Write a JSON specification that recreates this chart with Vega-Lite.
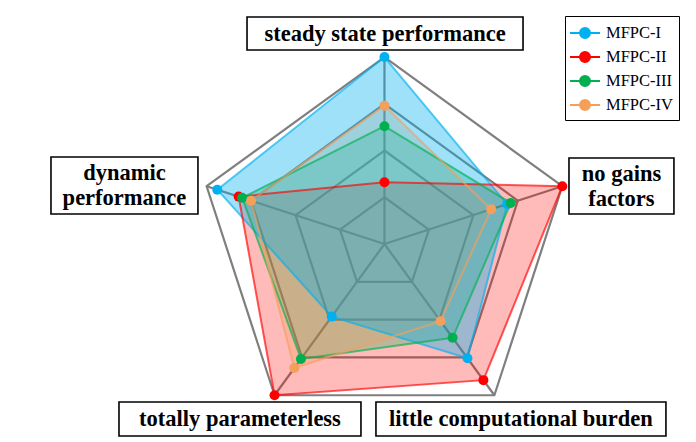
{
  "$schema": "https://vega.github.io/schema/vega-lite/v6.json",
  "width": 696,
  "height": 442,
  "autosize": "none",
  "padding": 0,
  "background": "white",
  "config": {"view": {"stroke": null}},
  "datasets": {
    "scores": [
      {"model": "MFPC-I", "criterion": "steady state performance", "k": 0, "value": 1.0},
      {"model": "MFPC-I", "criterion": "no gains factors", "k": 1, "value": 0.69},
      {"model": "MFPC-I", "criterion": "little computational burden", "k": 2, "value": 0.755},
      {"model": "MFPC-I", "criterion": "totally parameterless", "k": 3, "value": 0.48},
      {"model": "MFPC-I", "criterion": "dynamic performance", "k": 4, "value": 0.94},
      {"model": "MFPC-II", "criterion": "steady state performance", "k": 0, "value": 0.33},
      {"model": "MFPC-II", "criterion": "no gains factors", "k": 1, "value": 1.0},
      {"model": "MFPC-II", "criterion": "little computational burden", "k": 2, "value": 0.9},
      {"model": "MFPC-II", "criterion": "totally parameterless", "k": 3, "value": 1.0},
      {"model": "MFPC-II", "criterion": "dynamic performance", "k": 4, "value": 0.82},
      {"model": "MFPC-III", "criterion": "steady state performance", "k": 0, "value": 0.63},
      {"model": "MFPC-III", "criterion": "no gains factors", "k": 1, "value": 0.71},
      {"model": "MFPC-III", "criterion": "little computational burden", "k": 2, "value": 0.62},
      {"model": "MFPC-III", "criterion": "totally parameterless", "k": 3, "value": 0.76},
      {"model": "MFPC-III", "criterion": "dynamic performance", "k": 4, "value": 0.8},
      {"model": "MFPC-IV", "criterion": "steady state performance", "k": 0, "value": 0.74},
      {"model": "MFPC-IV", "criterion": "no gains factors", "k": 1, "value": 0.6},
      {"model": "MFPC-IV", "criterion": "little computational burden", "k": 2, "value": 0.51},
      {"model": "MFPC-IV", "criterion": "totally parameterless", "k": 3, "value": 0.82},
      {"model": "MFPC-IV", "criterion": "dynamic performance", "k": 4, "value": 0.75}
    ],
    "criteria": [
      {"criterion": "steady state performance", "k": 0, "label": "steady state performance"},
      {"criterion": "no gains factors", "k": 1, "label": "no gains\nfactors"},
      {"criterion": "little computational burden", "k": 2, "label": "little computational burden"},
      {"criterion": "totally parameterless", "k": 3, "label": "totally parameterless"},
      {"criterion": "dynamic performance", "k": 4, "label": "dynamic\nperformance"}
    ],
    "levels": [
      {"level": 0.25, "k": [0, 1, 2, 3, 4]},
      {"level": 0.5, "k": [0, 1, 2, 3, 4]},
      {"level": 0.75, "k": [0, 1, 2, 3, 4]},
      {"level": 1.0, "k": [0, 1, 2, 3, 4]}
    ]
  },
  "layer": [
    {
      "data": {"name": "levels"},
      "transform": [
        {"flatten": ["k"]},
        {"calculate": "PI/2 - datum.k*2*PI/5", "as": "a"},
        {"calculate": "datum.level*cos(datum.a)", "as": "x"},
        {"calculate": "datum.level*sin(datum.a)", "as": "y"}
      ],
      "mark": {"type": "line", "interpolate": "linear-closed", "stroke": "#7f7f7f", "strokeWidth": 2.2},
      "encoding": {
        "x": {"field": "x", "type": "quantitative", "scale": {"domain": [-2.056, 1.666], "nice": false, "zero": false}, "axis": null},
        "y": {"field": "y", "type": "quantitative", "scale": {"domain": [-1.059, 1.305], "nice": false, "zero": false}, "axis": null},
        "detail": {"field": "level", "type": "nominal"},
        "order": {"field": "k", "type": "quantitative"}
      }
    },
    {
      "data": {"name": "criteria"},
      "transform": [
        {"calculate": "PI/2 - datum.k*2*PI/5", "as": "a"},
        {"calculate": "0", "as": "x0"},
        {"calculate": "0", "as": "y0"},
        {"calculate": "cos(datum.a)", "as": "x"},
        {"calculate": "sin(datum.a)", "as": "y"}
      ],
      "mark": {"type": "rule", "stroke": "#7f7f7f", "strokeWidth": 2.2},
      "encoding": {
        "x": {"field": "x0", "type": "quantitative"},
        "y": {"field": "y0", "type": "quantitative"},
        "x2": {"field": "x"},
        "y2": {"field": "y"}
      }
    },
    {
      "data": {"name": "scores"},
      "transform": [
        {"filter": "datum.model !== 'MFPC-I'"},
        {"calculate": "PI/2 - datum.k*2*PI/5", "as": "a"},
        {"calculate": "datum.value*cos(datum.a)", "as": "x"},
        {"calculate": "datum.value*sin(datum.a)", "as": "y"}
      ],
      "mark": {"type": "line", "interpolate": "linear-closed", "filled": true, "fillOpacity": 0.27},
      "encoding": {
        "x": {"field": "x", "type": "quantitative"},
        "y": {"field": "y", "type": "quantitative"},
        "color": {"field": "model", "type": "nominal",
          "scale": {"domain": ["MFPC-I", "MFPC-II", "MFPC-III", "MFPC-IV"], "range": ["#00B0F0", "#FF0000", "#00B050", "#F5A05A"]},
          "legend": {
            "orient": "none", "legendX": 565, "legendY": 16, "title": null,
            "strokeColor": "black", "fillColor": "white", "padding": 6,
            "symbolType": "M-1.5,0H1.5M-0.5,0A0.5,0.5 0 1,0 0.5,0A0.5,0.5 0 1,0 -0.5,0Z",
            "symbolSize": 400, "symbolStrokeWidth": 2, "symbolOpacity": 1, "symbolOffset": 3,
            "labelFont": "Liberation Serif", "labelFontSize": 16.5, "labelColor": "black",
            "labelOffset": 10, "labelLimit": 200, "rowPadding": 4
          }
        },
        "order": {"field": "k", "type": "quantitative"}
      }
    },
    {
      "data": {"name": "scores"},
      "transform": [
        {"filter": "datum.model === 'MFPC-I'"},
        {"calculate": "PI/2 - datum.k*2*PI/5", "as": "a"},
        {"calculate": "datum.value*cos(datum.a)", "as": "x"},
        {"calculate": "datum.value*sin(datum.a)", "as": "y"}
      ],
      "mark": {"type": "line", "interpolate": "linear-closed", "filled": true, "fillOpacity": 0.38},
      "encoding": {
        "x": {"field": "x", "type": "quantitative"},
        "y": {"field": "y", "type": "quantitative"},
        "color": {"field": "model", "type": "nominal"},
        "order": {"field": "k", "type": "quantitative"}
      }
    },
    {
      "data": {"name": "scores"},
      "transform": [
        {"calculate": "PI/2 - datum.k*2*PI/5", "as": "a"},
        {"calculate": "datum.value*cos(datum.a)", "as": "x"},
        {"calculate": "datum.value*sin(datum.a)", "as": "y"}
      ],
      "mark": {"type": "line", "interpolate": "linear-closed", "strokeWidth": 2, "strokeOpacity": 0.65},
      "encoding": {
        "x": {"field": "x", "type": "quantitative"},
        "y": {"field": "y", "type": "quantitative"},
        "color": {"field": "model", "type": "nominal"},
        "order": {"field": "k", "type": "quantitative"}
      }
    },
    {
      "data": {"name": "scores"},
      "transform": [
        {"calculate": "PI/2 - datum.k*2*PI/5", "as": "a"},
        {"calculate": "datum.value*cos(datum.a)", "as": "x"},
        {"calculate": "datum.value*sin(datum.a)", "as": "y"}
      ],
      "mark": {"type": "circle", "size": 100, "opacity": 1},
      "encoding": {
        "x": {"field": "x", "type": "quantitative"},
        "y": {"field": "y", "type": "quantitative"},
        "color": {"field": "model", "type": "nominal"}
      }
    },
    {
      "data": {"name": "criteria"},
      "transform": [
        {"calculate": "[0.003, 1.2674, 0.7299, -0.7727, -1.3904][datum.k]", "as": "cx"},
        {"calculate": "[1.1257, 0.3102, -0.9358, -0.9358, 0.3128][datum.k]", "as": "cy"},
        {"calculate": "[0.738, 0.2807, 0.7754, 0.647, 0.393][datum.k]", "as": "hw"},
        {"calculate": "[0.0882, 0.1497, 0.0909, 0.0909, 0.1524][datum.k]", "as": "hh"},
        {"calculate": "datum.cx - datum.hw", "as": "x"},
        {"calculate": "datum.cx + datum.hw", "as": "x2"},
        {"calculate": "datum.cy - datum.hh", "as": "y"},
        {"calculate": "datum.cy + datum.hh", "as": "y2"}
      ],
      "mark": {"type": "rect", "fill": "white", "stroke": "black", "strokeWidth": 1.6},
      "encoding": {
        "x": {"field": "x", "type": "quantitative"},
        "x2": {"field": "x2"},
        "y": {"field": "y", "type": "quantitative"},
        "y2": {"field": "y2"}
      }
    },
    {
      "data": {"name": "criteria"},
      "transform": [
        {"calculate": "[0.003, 1.2674, 0.7299, -0.7727, -1.3904][datum.k]", "as": "x"},
        {"calculate": "[1.1257, 0.377, -0.9358, -0.9358, 0.3796][datum.k]", "as": "y"}
      ],
      "mark": {"type": "text", "font": "Liberation Serif", "fontWeight": "bold", "fontSize": 22.5, "color": "black", "align": "center", "baseline": "middle", "lineBreak": "\n", "lineHeight": 25},
      "encoding": {
        "x": {"field": "x", "type": "quantitative"},
        "y": {"field": "y", "type": "quantitative"},
        "text": {"field": "label"}
      }
    }
  ]
}
